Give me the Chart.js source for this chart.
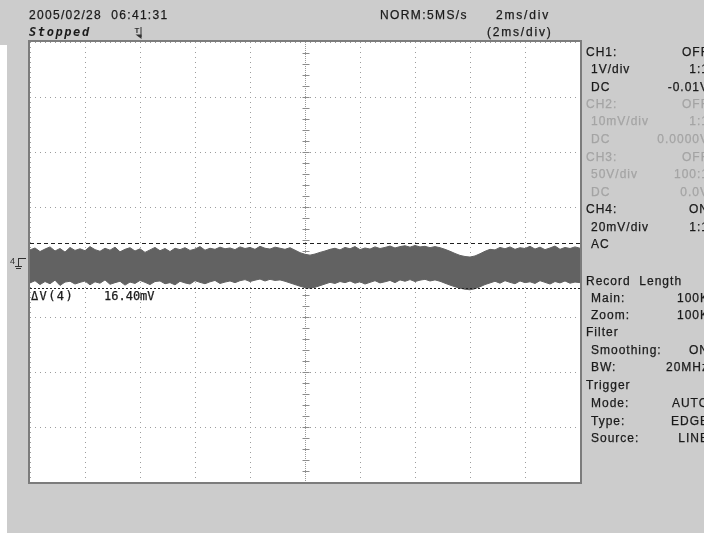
<!DOCTYPE html>
<html>
<head>
<meta charset="utf-8">
<script src="https://cdn.jsdelivr.net/npm/chart.js@4.4.1/dist/chart.umd.min.js"></script>
<style>
  html,body{margin:0;padding:0;}
  body{width:704px;height:533px;position:relative;overflow:hidden;background:#cccccc;
       font-family:"Liberation Sans",Arial,sans-serif;color:#1a1a1a;}
  #strip{position:absolute;left:0;top:45px;width:7px;height:488px;background:#fff;}
  canvas{position:absolute;left:0;top:0;}
  .t{position:absolute;font-size:12px;line-height:14px;white-space:pre;letter-spacing:1px;
     -webkit-text-stroke:0.25px currentColor;}
  .r{text-align:right;right:-5px;}
  .g{color:#a4a4a4;}
  .mono{font-family:"DejaVu Sans Mono",monospace;}
</style>
</head>
<body>
<div id="strip"></div>
<canvas id="c" width="704" height="533"></canvas>

<div class="t" style="left:29px;top:8px;letter-spacing:1.3px">2005/02/28  06:41:31</div>
<div class="t mono" style="left:29px;top:25px;font-style:oblique;font-weight:bold;letter-spacing:1.6px;-webkit-text-stroke:0">Stopped</div>
<div class="t" style="left:380px;top:8px;letter-spacing:1.4px">NORM:5MS/s</div>
<div class="t" style="left:496px;top:8px;letter-spacing:1.8px">2ms/div</div>
<div class="t" style="left:487px;top:25px;letter-spacing:1.8px">(2ms/div)</div>

<div class="t mono" style="left:31px;top:289px;letter-spacing:1.4px">ΔV(4)</div>
<div class="t mono" style="left:104px;top:289px;letter-spacing:0px">16.40mV</div>

<div id="panel"></div>

<script>
// ---- data ----
const timeSpanMs = 20;          // 10 div x 2 ms/div
const voltSpanMv = 160;         // 8 div x 20 mV/div
const cursorHigh = 6.95;        // mV
const cursorLow  = -9.45;       // mV

// upper envelope of CH4 noise band (mV)
const upperEnv = [
  4.4, 5.1, 3.8, 4.7, 5.5, 4.0, 4.9, 3.6, 5.3, 4.2, 4.8,
  4.1, 5.6, 4.5, 3.9, 5.0, 4.3, 5.4, 3.7, 4.6, 5.2,
  4.0, 4.8, 3.5, 4.4, 5.3, 4.1, 4.9, 3.8, 5.0, 4.5,
  5.2, 4.2, 4.7, 5.6, 4.3, 5.0, 4.6, 5.4, 4.8, 5.1,
  4.5, 5.5, 4.9, 5.3, 4.6, 5.7, 5.0, 4.7, 5.4, 5.0,
  4.6, 5.2, 4.3, 3.4, 2.8, 2.5, 2.9, 3.5, 4.0, 4.6,
  5.0, 4.4, 5.3, 4.8, 5.6, 4.5, 5.1, 4.7, 5.5, 4.9,
  5.3, 5.8, 5.1, 5.6, 5.9, 5.4, 6.0, 5.5, 5.7, 5.2,
  5.6, 5.2, 4.6, 3.9, 3.1, 2.4, 2.0, 1.8, 2.2, 3.0,
  3.9, 4.6, 4.4, 5.3, 4.8, 5.5, 4.6, 5.2, 4.9, 5.7,
  4.7, 5.4, 4.5, 5.1, 5.8, 4.6, 5.3, 4.9, 5.5, 5.0
];
// lower envelope of CH4 noise band (mV)
const lowerEnv = [
  -7.6, -6.8, -8.2, -7.1, -7.9, -6.6, -8.5, -7.3, -7.0, -8.0, -7.4,
  -6.9, -8.3, -7.2, -7.7, -6.5, -8.1, -7.5, -7.0, -8.4, -7.3,
  -7.8, -6.7, -7.4, -8.2, -7.1, -6.9, -7.9, -7.5, -8.3, -7.0,
  -7.6, -8.0, -6.8, -7.4, -7.9, -7.2, -6.7, -7.8, -7.3, -6.9,
  -7.5, -6.8, -6.4, -7.1, -6.6, -6.2, -6.9, -6.3, -6.7, -6.5,
  -7.0, -7.6, -8.2, -8.8, -9.3, -9.5, -9.2, -8.6, -8.0, -7.4,
  -7.8, -7.1, -7.5, -6.9, -7.7, -7.2, -8.0, -7.4, -6.8, -7.6,
  -7.2, -6.7, -7.5, -6.5, -7.0, -6.4, -7.1, -6.6, -6.3, -6.9,
  -6.5, -7.0, -7.7, -8.4, -9.0, -9.5, -9.9, -10.1, -9.7, -9.0,
  -8.2, -7.6, -7.0, -7.7, -6.8, -7.4, -7.9, -6.9, -7.5, -7.2,
  -7.8, -6.8, -7.4, -8.0, -7.1, -7.6, -6.9, -7.7, -7.3, -7.5
];

// right-hand settings panel: [label, value, indent, grey, row centre y]
const panelRows = [
  ["CH1:", "OFF", 0, false, 52],
  ["1V/div", "1:1", 1, false, 69],
  ["DC", "-0.01V", 1, false, 87],
  ["CH2:", "OFF", 0, true, 104],
  ["10mV/div", "1:1", 1, true, 121],
  ["DC", "0.0000V", 1, true, 139],
  ["CH3:", "OFF", 0, true, 157],
  ["50V/div", "100:1", 1, true, 174],
  ["DC", "0.0V", 1, true, 192],
  ["CH4:", "ON", 0, false, 209],
  ["20mV/div", "1:1", 1, false, 227],
  ["AC", "", 1, false, 244],
  ["Record  Length", "", 0, false, 281],
  ["Main:", "100K", 1, false, 298],
  ["Zoom:", "100K", 1, false, 315],
  ["Filter", "", 0, false, 332],
  ["Smoothing:", "ON", 1, false, 350],
  ["BW:", "20MHz", 1, false, 367],
  ["Trigger", "", 0, false, 385],
  ["Mode:", "AUTO", 1, false, 403],
  ["Type:", "EDGE", 1, false, 421],
  ["Source:", "LINE", 1, false, 438]
];

// ---- panel text ----
const panel = document.getElementById('panel');
panelRows.forEach(([lab, val, ind, grey, y]) => {
  const a = document.createElement('div');
  a.className = 't' + (grey ? ' g' : '');
  a.style.left = (586 + ind * 5) + 'px';
  a.style.top = (y - 7) + 'px';
  a.textContent = lab;
  panel.appendChild(a);
  if (val) {
    const b = document.createElement('div');
    b.className = 't r' + (grey ? ' g' : '');
    b.style.top = (y - 7) + 'px';
    b.textContent = val;
    panel.appendChild(b);
  }
});

// ---- chart ----
const N = upperEnv.length;
const dt = timeSpanMs / (N - 1);
const upperPts = upperEnv.map((v, i) => ({x: i * dt, y: v}));
const lowerPts = lowerEnv.map((v, i) => ({x: i * dt, y: v}));

const scopePlugin = {
  id: 'scope',
  beforeDraw(chart) {
    const {ctx, chartArea: a} = chart;
    ctx.save();
    ctx.fillStyle = '#ffffff';
    ctx.fillRect(a.left, a.top, a.right - a.left, a.bottom - a.top);
    ctx.restore();
  },
  beforeDatasetsDraw(chart) {
    const {ctx, chartArea: a, scales: {x, y}} = chart;
    const cx = Math.round(x.getPixelForValue(timeSpanMs / 2)) + 0.5;
    const cy = Math.round(y.getPixelForValue(0)) + 0.5;
    ctx.save();
    ctx.strokeStyle = '#9a9a9a';
    ctx.lineWidth = 1;
    ctx.setLineDash([1, 1]);
    ctx.beginPath();
    ctx.moveTo(cx, a.top); ctx.lineTo(cx, a.bottom);
    ctx.moveTo(a.left, cy); ctx.lineTo(a.right, cy);
    ctx.stroke();
    ctx.setLineDash([]);
    ctx.strokeStyle = '#8c8c8c';
    ctx.beginPath();
    const vStep = 20 / 5, tStep = 2 / 5;
    for (let v = -voltSpanMv / 2 + vStep; v < voltSpanMv / 2; v += vStep) {
      const py = Math.round(y.getPixelForValue(v)) + 0.5;
      ctx.moveTo(cx - 3, py); ctx.lineTo(cx + 4, py);
    }
    for (let t = tStep; t < timeSpanMs; t += tStep) {
      const px = Math.round(x.getPixelForValue(t)) + 0.5;
      ctx.moveTo(px, cy - 3); ctx.lineTo(px, cy + 4);
    }
    ctx.stroke();
    ctx.restore();
  },
  afterDatasetsDraw(chart) {
    const {ctx, chartArea: a, scales: {x, y}} = chart;
    ctx.save();
    // cursors
    ctx.strokeStyle = '#202020';
    ctx.lineWidth = 1;
    const hy = Math.round(y.getPixelForValue(cursorHigh)) + 0.5;
    const ly = Math.round(y.getPixelForValue(cursorLow)) + 0.5;
    ctx.setLineDash([4, 3]);
    ctx.beginPath(); ctx.moveTo(a.left, hy); ctx.lineTo(a.right, hy); ctx.stroke();
    ctx.setLineDash([2, 2]);
    ctx.beginPath(); ctx.moveTo(a.left, ly); ctx.lineTo(a.right, ly); ctx.stroke();
    ctx.setLineDash([]);
    // frame
    ctx.strokeStyle = '#7c7c7c';
    ctx.lineWidth = 2;
    ctx.strokeRect(a.left - 1, a.top - 1, a.right - a.left + 2, a.bottom - a.top + 2);
    // ground marker for CH4
    const gy = Math.round(y.getPixelForValue(0)) + 1;
    ctx.fillStyle = '#303030';
    ctx.font = '9px "Liberation Sans", Arial, sans-serif';
    ctx.textBaseline = 'middle';
    ctx.fillText('4', 10, gy - 1);
    ctx.strokeStyle = '#303030';
    ctx.lineWidth = 1;
    ctx.beginPath();
    ctx.moveTo(18, gy - 4.5); ctx.lineTo(26, gy - 4.5);
    ctx.moveTo(18.5, gy - 4.5); ctx.lineTo(18.5, gy + 3);
    ctx.moveTo(15, gy + 3.5); ctx.lineTo(22, gy + 3.5);
    ctx.moveTo(16, gy + 5.5); ctx.lineTo(21, gy + 5.5);
    ctx.stroke();
    // trigger position marker
    const tx = 138.5;
    ctx.font = 'bold 8px "Liberation Sans", Arial, sans-serif';
    ctx.textBaseline = 'alphabetic';
    ctx.fillText('T', tx - 4, 33);
    ctx.beginPath();
    ctx.moveTo(tx + 2.5, 27); ctx.lineTo(tx + 2.5, 37);
    ctx.stroke();
    ctx.beginPath();
    ctx.moveTo(tx - 3, 34.5); ctx.lineTo(tx + 3, 34.5); ctx.lineTo(tx + 3, 39); ctx.closePath();
    ctx.fill();
    ctx.restore();
  }
};

new Chart(document.getElementById('c'), {
  type: 'line',
  data: {
    datasets: [
      {data: upperPts, borderColor: '#626262', backgroundColor: '#626262',
       borderWidth: 1, pointRadius: 0, fill: false, tension: 0},
      {data: lowerPts, borderColor: '#626262', backgroundColor: '#626262',
       borderWidth: 1, pointRadius: 0, fill: '-1', tension: 0}
    ]
  },
  options: {
    responsive: false,
    animation: false,
    events: [],
    layout: {padding: {left: 30, top: 42, right: 124, bottom: 51}},
    plugins: {legend: {display: false}, tooltip: {enabled: false}, title: {display: false}},
    scales: {
      x: {
        type: 'linear', min: 0, max: timeSpanMs,
        ticks: {display: false, stepSize: 2},
        grid: {drawTicks: false, color: (c) => (c.tick && c.tick.value === timeSpanMs / 2) ? 'rgba(0,0,0,0)' : '#9c9c9c'},
        border: {display: false, dash: [1, 4]}
      },
      y: {
        type: 'linear', min: -voltSpanMv / 2, max: voltSpanMv / 2,
        ticks: {display: false, stepSize: 20},
        grid: {drawTicks: false, color: (c) => (c.tick && c.tick.value === 0) ? 'rgba(0,0,0,0)' : '#9c9c9c'},
        border: {display: false, dash: [1, 4]}
      }
    }
  },
  plugins: [scopePlugin]
});
</script>
</body>
</html>
